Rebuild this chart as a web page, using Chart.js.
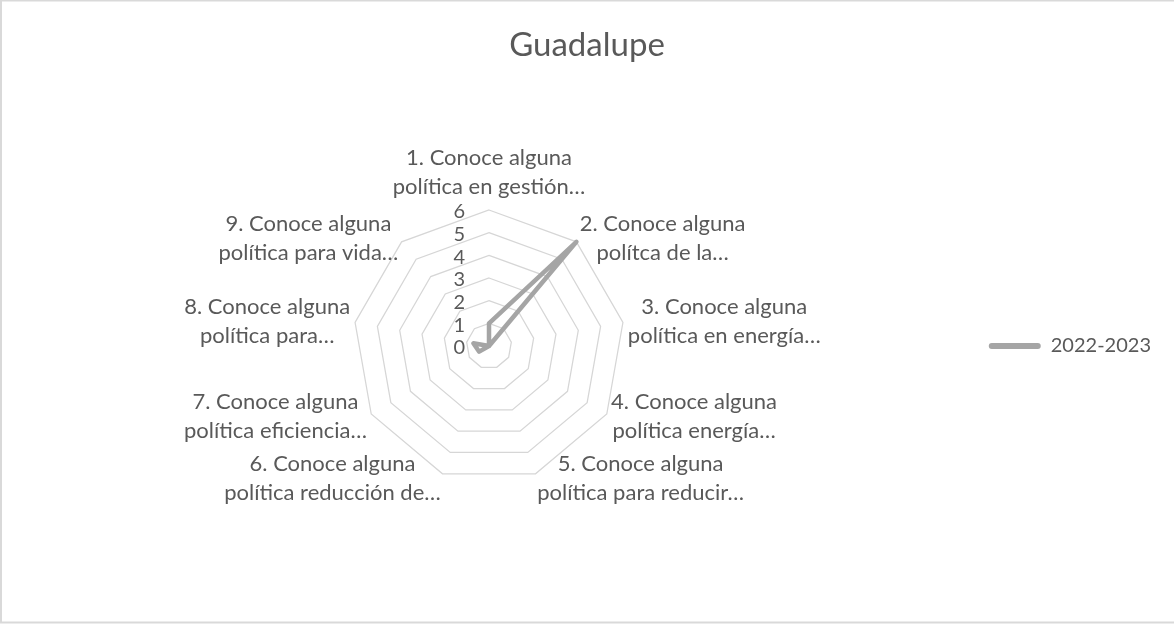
<!DOCTYPE html>
<html>
<head>
<meta charset="utf-8">
<script src="https://cdn.jsdelivr.net/npm/chart.js@4.4.0/dist/chart.umd.min.js"></script>
<style>
  html, body { margin: 0; padding: 0; background: #fff; }
  #wrap { width: 1174px; height: 624px; position: relative; }
</style>
</head>
<body>
<div id="wrap"><canvas id="chart"></canvas></div>
<script>
const categories = [
  ['1. Conoce alguna', 'política en gestión…'],
  ['2. Conoce alguna', 'polítca de la…'],
  ['3. Conoce alguna', 'política en energía…'],
  ['4. Conoce alguna', 'política energía…'],
  ['5. Conoce alguna', 'política para reducir…'],
  ['6. Conoce alguna', 'política reducción de…'],
  ['7. Conoce alguna', 'política eficiencia…'],
  ['8. Conoce alguna', 'política para…'],
  ['9. Conoce alguna', 'política para vida…']
];
const seriesName = '2022-2023';
const values = [1, 6, 0, 0, 0, 0, 0.5, 0.7, 0];
const tickLabels = [0, 1, 2, 3, 4, 5, 6];

const FONT = 'Lato, "Open Sans", sans-serif';
const TEXT = '#595959';
const LABEL_SIZE = 22;
const LINE_H = 29;

// category labels placed the Excel way: left/right aligned beside each spoke end
const pointLabelPlugin = {
  id: 'excelPointLabels',
  afterDatasetsDraw(chart) {
    const r = chart.scales.r;
    const ctx = chart.ctx;
    ctx.save();
    ctx.font = LABEL_SIZE + 'px ' + FONT;
    ctx.fillStyle = TEXT;
    ctx.textAlign = 'center';
    ctx.textBaseline = 'middle';
    categories.forEach((lines, i) => {
      const a = r.getIndexAngle(i);
      const s = Math.sin(a), c = Math.cos(a);
      const p = r.getPointPosition(i, r.drawingArea + 5);
      const bw = Math.max(...lines.map(t => ctx.measureText(t).width));
      const bh = lines.length * LINE_H;
      let cx, top;
      if (Math.abs(s) < 0.1) {
        cx = p.x;
        top = c > 0 ? p.y - bh - 4 : p.y + 4;
      } else {
        cx = s > 0 ? p.x + bw / 2 : p.x - bw / 2;
        top = p.y - bh / 2;
      }
      lines.forEach((t, k) => ctx.fillText(t, cx, top + LINE_H * (k + 0.5)));
    });

    // tick numbers to the left of the vertical spoke
    ctx.font = '20px ' + FONT;
    ctx.textAlign = 'right';
    tickLabels.forEach(v => {
      const q = r.getPointPositionForValue(0, v);
      ctx.fillText(String(v), q.x - 24, q.y + 2);
    });
    ctx.restore();
  }
};

const borderPlugin = {
  id: 'outerBorder',
  afterDraw(chart) {
    const ctx = chart.ctx;
    ctx.save();
    ctx.strokeStyle = '#d9d9d9';
    ctx.lineWidth = 2;
    ctx.strokeRect(1, 0.5, chart.width + 2, chart.height - 2);
    ctx.restore();
  }
};

new Chart(document.getElementById('chart'), {
  type: 'radar',
  data: {
    labels: categories,
    datasets: [{
      label: seriesName,
      data: values,
      borderColor: '#a5a5a5',
      backgroundColor: '#a5a5a5',
      borderWidth: 4.5,
      borderJoinStyle: 'round',
      borderCapStyle: 'round',
      fill: false,
      pointRadius: 0,
      pointHoverRadius: 0,
      tension: 0
    }]
  },
  options: {
    responsive: true,
    maintainAspectRatio: false,
    animation: false,
    layout: { padding: { left: 13, right: 13, top: 0, bottom: 142 } },
    plugins: {
      title: {
        display: true,
        text: 'Guadalupe',
        color: TEXT,
        font: { family: FONT, size: 33, weight: 'normal' },
        padding: { top: 26, bottom: 144.4 }
      },
      legend: {
        position: 'right',
        fullSize: false,
        labels: {
          color: TEXT,
          font: { family: FONT, size: 20 },
          boxWidth: 52,
          boxHeight: 6,
          useBorderRadius: true,
          borderRadius: 3,
          padding: 22,
          generateLabels: (chart) =>
            Chart.defaults.plugins.legend.labels.generateLabels(chart)
              .map(l => Object.assign(l, { lineWidth: 0 }))
        }
      },
      tooltip: { enabled: false }
    },
    scales: {
      r: {
        min: 0,
        max: 6,
        ticks: { display: false, stepSize: 1 },
        grid: { color: '#d6d6d6', lineWidth: 1.25 },
        angleLines: { display: false },
        pointLabels: { display: false }
      }
    }
  },
  plugins: [pointLabelPlugin, borderPlugin]
});
</script>
</body>
</html>
